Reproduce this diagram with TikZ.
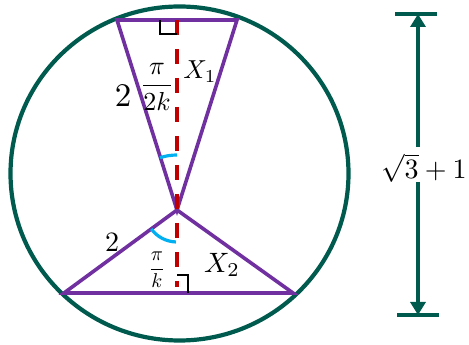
\documentclass[tikz,border=0pt]{standalone}
\usetikzlibrary{arrows.meta}
\definecolor{tealc}{HTML}{005A4E}
\definecolor{purp}{HTML}{7030A0}
\definecolor{redd}{HTML}{C00000}
\definecolor{bluec}{HTML}{00B0F0}
\begin{document}
\begin{tikzpicture}[x=1pt,y=1pt,
  tri/.style={draw=purp,line width=3.6pt,line join=miter},
  ring/.style={draw=tealc,line width=4.2pt},
  axisline/.style={draw=redd,line width=3.4pt,dash pattern=on 15pt off 14pt},
  rtmark/.style={draw=black,line width=2.6pt},
  angarc/.style={draw=bluec,line width=3.2pt},
  dimline/.style={draw=tealc,line width=3.6pt,-{Triangle[length=13pt,width=15pt]}},
  endbar/.style={draw=tealc,line width=4.2pt},
  lab/.style={inner sep=0pt,text=black}]
\useasboundingbox (0,0) rectangle (469,345);
% circle
\coordinate (O) at (179.5,171.5);
\draw[ring] (O) ellipse [x radius=169, y radius=167];
% triangle points
\coordinate (A) at (177,135);
\coordinate (TL) at (117,325);
\coordinate (TR) at (237,325);
\coordinate (BL) at (64,52);
\coordinate (BR) at (293,52);
\draw[tri] (TL) -- (TR) -- (A) -- cycle;
\draw[tri] (BL) -- (BR) -- (A) -- cycle;
% dashed axis
\coordinate (D1) at (177,325);
\coordinate (D2) at (177,58);
\draw[axisline] (D1) -- (D2);
% right angle marks
\draw[rtmark] (160,325) -- (160,311) -- (177,311);
\draw[rtmark] (177,70) -- (188,70) -- (188,52);
% angle arcs
\draw[angarc] (A) ++(90:55) arc[start angle=90, end angle=108, radius=55];
\draw[angarc] (A) ++(216.5:32) arc[start angle=216.5, end angle=268, radius=32];
% labels
\node[lab,scale=3.3] (t2) at (123,249) {$2$};
\node[lab,scale=2.6] (tf) at (157,258) {$\displaystyle\frac{\pi}{2k}$};
\node[lab,scale=2.6] (x1) at (200,273) {$X_1$};
\node[lab,scale=2.8] (b2) at (112,103) {$2$};
\node[lab,scale=2.0] (bf) at (157,75) {$\displaystyle\frac{\pi}{k}$};
\node[lab,scale=2.8] (x2) at (222,80) {$X_2$};
% dimension
\node[lab,scale=2.8,inner ysep=2pt] (len) at (424,177) {$\sqrt{3}+1$};
\coordinate (Ttop) at (418,331);
\coordinate (Tbot) at (418,30);
\coordinate (Gtop) at (418,198);
\coordinate (Gbot) at (418,163);
\draw[endbar] (395,331) -- (437,331);
\draw[endbar] (397,30) -- (439,30);
\draw[dimline] (Gtop) -- (Ttop);
\draw[dimline] (Gbot) -- (Tbot);
\end{tikzpicture}
\end{document}
